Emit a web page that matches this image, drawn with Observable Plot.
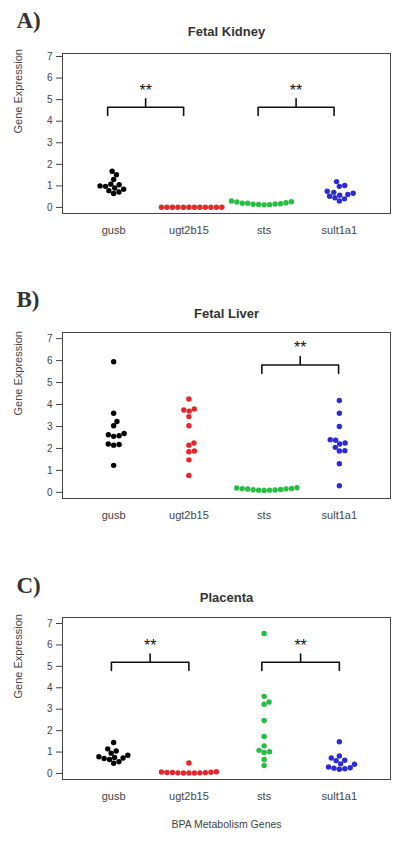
<!DOCTYPE html>
<html><head><meta charset="utf-8">
<script src="https://cdn.jsdelivr.net/npm/d3@7"></script>
<script src="https://cdn.jsdelivr.net/npm/@observablehq/plot@0.6"></script>
<style>body{margin:0;background:#fff}#root{width:400px;height:848px;background:#fff}svg{display:block}</style>
</head><body><div id="root"></div>
<script>
const genes = ["gusb", "ugt2b15", "sts", "sult1a1"];
const geneColors = ["#000000", "#e8252b", "#22bf40", "#2b2bd6"];
const yTicks = [0, 1, 2, 3, 4, 5, 6, 7];
const panelLetters = ["A)", "B)", "C)"];
const panelTitles = ["Fetal Kidney", "Fetal Liver", "Placenta"];
const xAxisTitle = "BPA Metabolism Genes";
const yAxisTitle = "Gene Expression";
const sigLabel = "**";

const kidneyGusb = [1.68, 1.52, 1.3, 1.08, 1.05, 1.0, 0.98, 0.9, 0.85, 0.78, 0.72, 0.65];
const kidneyUgt2b15 = [0.01, 0.01, 0.01, 0.01, 0.01, 0.01, 0.01, 0.01, 0.01, 0.01, 0.01, 0.01];
const kidneySts = [0.25, 0.22, 0.2, 0.17, 0.15, 0.13, 0.12, 0.14, 0.16, 0.2, 0.27, 0.3];
const kidneySult1a1 = [1.2, 1.02, 0.98, 0.75, 0.7, 0.66, 0.6, 0.57, 0.52, 0.45, 0.4, 0.3];

const liverGusb = [5.95, 3.6, 3.23, 3.03, 2.68, 2.62, 2.58, 2.55, 2.2, 2.18, 2.15, 1.23];
const liverUgt2b15 = [4.25, 3.8, 3.75, 3.7, 3.45, 3.03, 2.25, 2.15, 1.88, 1.85, 1.48, 0.77];
const liverSts = [0.2, 0.18, 0.16, 0.13, 0.11, 0.1, 0.09, 0.1, 0.12, 0.15, 0.17, 0.21];
const liverSult1a1 = [4.18, 3.6, 3.0, 2.4, 2.37, 2.25, 2.2, 2.05, 1.9, 1.88, 1.3, 0.3];

const placentaGusb = [1.45, 1.15, 1.05, 0.95, 0.85, 0.78, 0.75, 0.72, 0.7, 0.65, 0.55, 0.48];
const placentaUgt2b15 = [0.49, 0.08, 0.06, 0.05, 0.04, 0.03, 0.02, 0.02, 0.02, 0.03, 0.05, 0.07];
const placentaSts = [6.53, 3.6, 3.34, 3.23, 2.47, 1.73, 1.29, 1.08, 1.02, 0.98, 0.65, 0.37];
const placentaSult1a1 = [1.48, 0.82, 0.72, 0.62, 0.6, 0.45, 0.43, 0.3, 0.27, 0.25, 0.22, 0.2];

const kidneyBrackets = [["gusb", "ugt2b15"], ["sts", "sult1a1"]];
const liverBrackets = [["sts", "sult1a1"]];
const placentaBrackets = [["gusb", "ugt2b15"], ["sts", "sult1a1"]];
const bracketFeet = [4.27, 5.42, 4.81];

// ---- layout (not data) ----
const W = 400, ML = 62, MR = 10;
const xDomain = [-0.68, 3.68];
const panels = [
  {series: [kidneyGusb, kidneyUgt2b15, kidneySts, kidneySult1a1], brackets: kidneyBrackets,
   height: 270, mt: 53, mb: 57, yDomain: [-0.28, 7.14], bx: [-0.08, -0.07], titleDy: -27, letterDy: -26},
  {series: [liverGusb, liverUgt2b15, liverSts, liverSult1a1], brackets: liverBrackets,
   height: 290, mt: 62, mb: 62, yDomain: [-0.28, 7.28], bx: [-0.03, -0.01], titleDy: -24, letterDy: -26},
  {series: [placentaGusb, placentaUgt2b15, placentaSts, placentaSult1a1], brackets: placentaBrackets,
   height: 288, mt: 57, mb: 69, yDomain: [-0.28, 7.28], bx: [-0.03, 0.0], titleDy: -25, letterDy: -25}
];

function swarm(values, yScale, r) {
  const order = d3.range(values.length).sort((a, b) => values[a] - values[b]);
  const placed = [];
  const out = new Array(values.length);
  for (const i of order) {
    const py = yScale(values[i]);
    const cands = [0];
    for (const p of placed) {
      const dy = Math.abs(p.y - py);
      if (dy < 2 * r) { const dx = Math.sqrt(4 * r * r - dy * dy); cands.push(p.x + dx, p.x - dx); }
    }
    cands.sort((a, b) => Math.abs(a) - Math.abs(b) || b - a);
    let best = 0;
    for (const c of cands) {
      if (placed.every(p => (p.x - c) ** 2 + (p.y - py) ** 2 >= 4 * r * r - 1e-6)) { best = c; break; }
    }
    placed.push({x: best, y: py});
    out[i] = best;
  }
  return out;
}

const root = document.getElementById("root");
panels.forEach((P, k) => {
  const yScale = d3.scaleLinear(P.yDomain, [P.height - P.mb, P.mt]);
  const step = (W - ML - MR) / (xDomain[1] - xDomain[0]);
  const rows = [];
  P.series.forEach((vals, gi) => {
    const offs = swarm(vals, yScale, 2.75);
    vals.forEach((v, j) => rows.push({gene: genes[gi], value: v, x: gi + offs[j] / step}));
  });
  const lines = [], stars = [];
  P.brackets.forEach(([g1, g2], bi) => {
    const x1 = genes.indexOf(g1) + P.bx[0], x2 = genes.indexOf(g2) + P.bx[1], xm = (x1 + x2) / 2;
    const base = bracketFeet[k], bar = base + 0.38, top = base + 0.77;
    [[x1, base], [x1, bar], [xm, bar], [xm, top], [xm, bar], [x2, bar], [x2, base]]
      .forEach(([x, y]) => lines.push({id: bi, x, y}));
    stars.push({x: xm, y: base + 1.32});
  });
  const marks = [
    Plot.frame({stroke: "#444"}),
    Plot.axisY(yTicks, {tickSize: 6, tickPadding: 4, fontSize: 10, color: "#444", label: null}),
    Plot.axisX([0, 1, 2, 3], {tickSize: 0, tickPadding: 13, fontSize: 11, color: "#444", label: null, tickFormat: i => genes[i]}),
    Plot.line(lines, {x: "x", y: "y", z: "id", stroke: "#111", strokeWidth: 1.6, strokeLinejoin: "round"}),
    Plot.text(stars, {x: "x", y: "y", text: () => sigLabel, fontSize: 16, dy: 4, fill: "#111"}),
    Plot.dot(rows, {x: "x", y: "value", r: 2.7, fill: "gene", stroke: null}),
    Plot.text([panelTitles[k]], {frameAnchor: "top", dy: P.titleDy, fontSize: 13, fontWeight: "bold", fill: "#333"}),
    Plot.text([panelLetters[k]], {frameAnchor: "top-left", textAnchor: "start", lineAnchor: "bottom", dx: -46, dy: P.letterDy,
      fontFamily: "Liberation Serif, Times New Roman, serif", fontWeight: "bold", fontSize: 23, fill: "#333"}),
    Plot.text([yAxisTitle], {frameAnchor: "left", rotate: -90, dx: -44, fontSize: 11, fill: "#444"})
  ];
  if (k === 2) marks.push(Plot.text([xAxisTitle], {frameAnchor: "bottom", dy: 48, fontSize: 10.5, fill: "#444"}));
  const chart = Plot.plot({
    width: W, height: P.height,
    marginLeft: ML, marginRight: MR, marginTop: P.mt, marginBottom: P.mb,
    style: {fontFamily: "Liberation Sans, Arial, sans-serif", background: "#fff", color: "#444"},
    x: {domain: xDomain, axis: null},
    y: {domain: P.yDomain, axis: null},
    color: {domain: genes, range: geneColors},
    marks
  });
  root.appendChild(chart);
});
</script></body></html>
